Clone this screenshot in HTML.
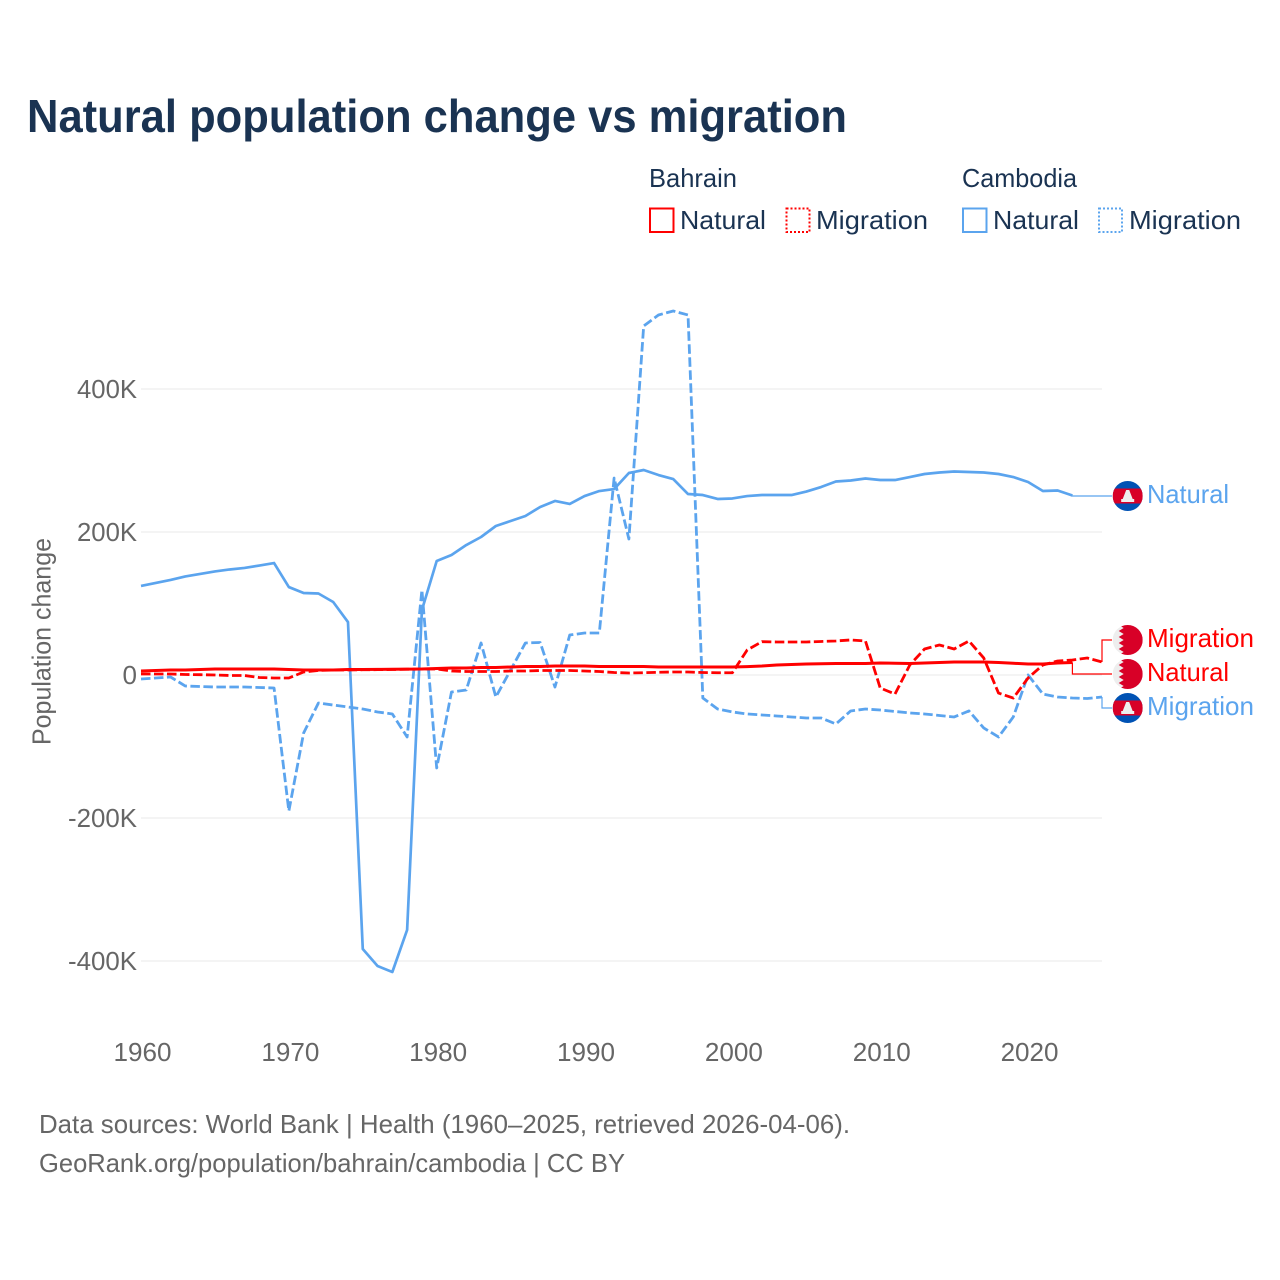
<!DOCTYPE html>
<html lang="en">
<head>
<meta charset="utf-8">
<title>Natural population change vs migration</title>
<style>
html,body{margin:0;padding:0;background:#fff;}
svg{display:block;}
text{font-family:"Liberation Sans",sans-serif;}
</style>
</head>
<body>
<svg id="chart" xmlns="http://www.w3.org/2000/svg" width="1280" height="1280" viewBox="0 0 1280 1280">
  <rect width="1280" height="1280" fill="#ffffff"/>
  <text x="27" y="132" font-size="46" font-weight="bold" fill="#1a3352" textLength="820" lengthAdjust="spacingAndGlyphs">Natural population change vs migration</text>

  <g font-size="26" fill="#1a3352">
    <text x="649" y="187" textLength="88" lengthAdjust="spacingAndGlyphs">Bahrain</text>
    <text x="962" y="187" textLength="115" lengthAdjust="spacingAndGlyphs">Cambodia</text>
    <rect x="650" y="208.500" width="23.500" height="23.500" fill="none" stroke="#ff0000" stroke-width="2"/>
    <text x="680" y="229" textLength="86" lengthAdjust="spacingAndGlyphs">Natural</text>
    <rect x="786.500" y="208.500" width="23" height="23.500" fill="none" stroke="#ff0000" stroke-width="2" stroke-dasharray="2 2"/>
    <text x="816" y="229" textLength="112" lengthAdjust="spacingAndGlyphs">Migration</text>
    <rect x="963" y="208.500" width="23.500" height="23.500" fill="none" stroke="#5ba4ee" stroke-width="2"/>
    <text x="993" y="229" textLength="86" lengthAdjust="spacingAndGlyphs">Natural</text>
    <rect x="1099" y="208.500" width="23" height="23.500" fill="none" stroke="#5ba4ee" stroke-width="2" stroke-dasharray="2 2"/>
    <text x="1129" y="229" textLength="112" lengthAdjust="spacingAndGlyphs">Migration</text>
  </g>

  <g id="grid"></g>
  <g id="yticks"></g>
  <g id="xticks"></g>
  <text transform="translate(50.500,641.500) rotate(-90)" text-anchor="middle" font-size="26" fill="#666666" textLength="207" lengthAdjust="spacingAndGlyphs">Population change</text>
  <g id="series"></g>
  <g id="connectors"></g>
  <g id="endlabels"></g>

  <text x="39" y="1133" font-size="26" fill="#666666" textLength="811" lengthAdjust="spacingAndGlyphs">Data sources: World Bank | Health (1960–2025, retrieved 2026-04-06).</text>
  <text x="39" y="1172" font-size="26" fill="#666666" textLength="586" lengthAdjust="spacingAndGlyphs">GeoRank.org/population/bahrain/cambodia | CC BY</text>
</svg>
<script>
const startYear = 1960;
const xTickYears = [1960, 1970, 1980, 1990, 2000, 2010, 2020];
const yTickValues = [400, 200, 0, -200, -400];
const yTickLabels = ["400K", "200K", "0", "-200K", "-400K"];

const cambodiaNatural = [124.5,128.7,132.9,137.8,141.3,144.8,147.6,149.7,153.1,156.6,
  123,114.7,114,102.1,74.1,-383.2,-407,-415.4,-356.6,90.9,
  159.4,167.8,181.8,193,208.4,215.4,222.4,235,243.4,239.2,
  250.3,257.3,260.1,282.5,286.7,279.7,274.1,253.1,251.7,246.2,
  246.9,250.3,251.7,251.7,251.7,256.6,262.9,270.6,272,274.8,
  272.7,272.7,276.9,281.1,283.2,284.6,283.9,283.2,281.1,276.9,
  269.9,257.3,258,251];
const cambodiaMigration = [-5.6,-4.2,-2.8,-15.4,-16.1,-16.8,-16.8,-16.8,-17.5,-18.2,
  -190.2,-81.1,-39.2,-42,-44.8,-47.6,-51.7,-54.5,-86.7,118.9,
  -130.1,-23.8,-21,44.8,-30.8,7,44.8,45.5,-16.8,55.9,
  58.7,58.7,275.5,190.2,488.1,503.5,509.1,503.5,-32.2,-47.6,
  -51.7,-54.5,-55.9,-57.3,-58.7,-60.1,-60.1,-68.5,-50.3,-47.6,
  -49,-51,-53.1,-54.5,-56.6,-58.7,-50.3,-74.1,-86.7,-58.7,
  0,-26.6,-30.8,-32.2,-32.9,-30.8];
const bahrainNatural = [5.6,6.3,7,7,7.7,8.4,8.4,8.4,8.4,8.4,
  7.7,7,7,7,7.7,7.7,7.9,8,8.2,8.4,
  9.1,9.8,9.8,10.5,10.5,11.2,11.9,11.9,12.6,12.6,
  12.6,11.9,11.9,11.9,11.9,11.2,11.2,11.2,11.2,11.2,
  11.2,11.7,12.6,14,14.7,15.4,15.8,16.1,16.1,16.1,
  16.8,16.4,16.1,16.8,17.5,18.2,18.2,18.2,17.5,16.4,
  15.4,15.4,16.8,17.5];
const bahrainMigration = [1.4,1.4,1.4,0.7,0.4,0,-0.7,-0.7,-3.5,-4.2,
  -4.2,4.2,6.3,7,7,7.3,7.5,7.7,8,8.4,
  8.4,5.6,4.9,4.9,4.9,5.6,5.6,6.3,6.3,6.3,
  5.6,4.9,3.5,2.8,3.2,3.8,4.2,4.2,3.5,3.1,
  3.2,35,46.6,46.2,46.2,46.2,46.9,47.6,49,47.6,
  -18.2,-26.6,14,36.4,42,36.4,47.6,23.8,-25.2,-32.2,
  -4.2,14,19.6,21,23.8,18.2];

const NS = "http://www.w3.org/2000/svg";
const BLUE = "#5ba4ee", RED = "#ff0000";
function xScale(year){ return 141 + (year - 1960) * (961 / 65); }
function yScale(v){ return 675 - v * 0.715; }
function make(tag, attrs, parent){
  const el = document.createElementNS(NS, tag);
  for (const k in attrs) el.setAttribute(k, attrs[k]);
  parent.appendChild(el);
  return el;
}
const gridG = document.getElementById("grid");
const yG = document.getElementById("yticks");
const xG = document.getElementById("xticks");
const seriesG = document.getElementById("series");
const connG = document.getElementById("connectors");
const labelG = document.getElementById("endlabels");

yTickValues.forEach(function(v, i){
  const line = make("line", {x1:141, x2:1102, y1:yScale(v), y2:yScale(v), stroke:"#e8e8e8", "stroke-width":1}, gridG);
  
  
  const t = make("text", {x:137, y:yScale(v)+9, "text-anchor":"end", "font-size":26, fill:"#666666"}, yG);
  
  
  t.textContent = yTickLabels[i];
  if (yTickLabels[i].length > 1) {
    t.setAttribute('textLength', yTickLabels[i].length === 5 ? 69 : 60);
    t.setAttribute('lengthAdjust', 'spacingAndGlyphs');
  }
});
xTickYears.forEach(function(y){
  const t = make("text", {x:xScale(y)+1.5, y:1061, "text-anchor":"middle", "font-size":26, fill:"#666666", textLength:58, lengthAdjust:"spacingAndGlyphs"}, xG);
  
  
  t.textContent = String(y);
});

function linePath(values){
  return values.map(function(v, i){
    return (i ? "L" : "M") + xScale(startYear + i).toFixed(2) + " " + yScale(v).toFixed(2);
  }).join(" ");
}
function drawLine(values, color, width, dashed, name){
  const attrs = {d:linePath(values), fill:"none", stroke:color, "stroke-width":width, "stroke-linejoin":"round"};
  if (dashed) attrs["stroke-dasharray"] = "9.5 3.5";
  const p = make("path", attrs, seriesG);
  
  
}
drawLine(cambodiaNatural, BLUE, 2.7, false, "line-cambodia-natural");
drawLine(cambodiaMigration, BLUE, 2.8, true, "line-cambodia-migration");
drawLine(bahrainMigration, RED, 2.8, true, "line-bahrain-migration");
drawLine(bahrainNatural, RED, 3, false, "line-bahrain-natural");

function connector(values, labelY, color, name){
  const last = values.length - 1;
  const x = xScale(startYear + last);
  const y = yScale(values[last]);
  const p = make("path", {d:"M"+x.toFixed(1)+" "+y.toFixed(1)+" L"+x.toFixed(1)+" "+labelY+" L1112 "+labelY, fill:"none", stroke:color, "stroke-width":1.2}, connG);
  
  
}
connector(cambodiaNatural, 496, BLUE, "connector-cambodia-natural");
connector(bahrainMigration, 640, RED, "connector-bahrain-migration");
connector(bahrainNatural, 674, RED, "connector-bahrain-natural");
connector(cambodiaMigration, 708, BLUE, "connector-cambodia-migration");

let clipId = 0;
function flag(kind, cy, name){
  const cx = 1127.7, r = 15;
  const g = make("g", {}, labelG);
  
  
  clipId++;
  const cp = make("clipPath", {id:"flagclip"+clipId}, g);
  make("circle", {cx:cx, cy:cy, r:r}, cp);
  const inner = make("g", {"clip-path":"url(#flagclip"+clipId+")"}, g);
  if (kind === "cambodia") {
    make("rect", {x:cx-r, y:cy-r, width:2*r, height:2*r, fill:"#0052b4"}, inner);
    make("rect", {x:cx-r, y:cy-7.5, width:2*r, height:15, fill:"#d80027"}, inner);
    make("path", {d:"M"+(cx-6.5)+" "+(cy+6)+" L"+(cx-6.5)+" "+(cy+3)+" L"+(cx-5)+" "+(cy+3)+" L"+(cx-1.5)+" "+(cy-6)+" L"+(cx+1.5)+" "+(cy-6)+" L"+(cx+5)+" "+(cy+3)+" L"+(cx+6.5)+" "+(cy+3)+" L"+(cx+6.5)+" "+(cy+6)+" Z", fill:"#eeeeee"}, inner);
  } else {
    make("rect", {x:cx-r, y:cy-r, width:2*r, height:2*r, fill:"#eeeeee"}, inner);
    let d = "M"+(cx+r)+" "+(cy-r)+" L"+(cx-9)+" "+(cy-r);
    for (let i = 0; i < 5; i++) {
      const top = cy - r + i * 6;
      d += " L"+(cx-4)+" "+(top+3)+" L"+(cx-9)+" "+(top+6);
    }
    d += " L"+(cx+r)+" "+(cy+r)+" Z";
    make("path", {d:d, fill:"#d80027"}, inner);
  }
}
function endLabel(text, y, color, width, name){
  const t = make("text", {x:1147, y:y, "font-size":26, fill:color, textLength:width, lengthAdjust:"spacingAndGlyphs"}, labelG);
  
  
  t.textContent = text;
}
flag("cambodia", 496, "flag-cambodia-natural");
endLabel("Natural", 503, BLUE, 82, "end-label-cambodia-natural");
flag("bahrain", 640, "flag-bahrain-migration");
endLabel("Migration", 647, RED, 107, "end-label-bahrain-migration");
flag("bahrain", 674, "flag-bahrain-natural");
endLabel("Natural", 681, RED, 82, "end-label-bahrain-natural");
flag("cambodia", 708, "flag-cambodia-migration");
endLabel("Migration", 715, BLUE, 107, "end-label-cambodia-migration");
</script>
</body>
</html>
